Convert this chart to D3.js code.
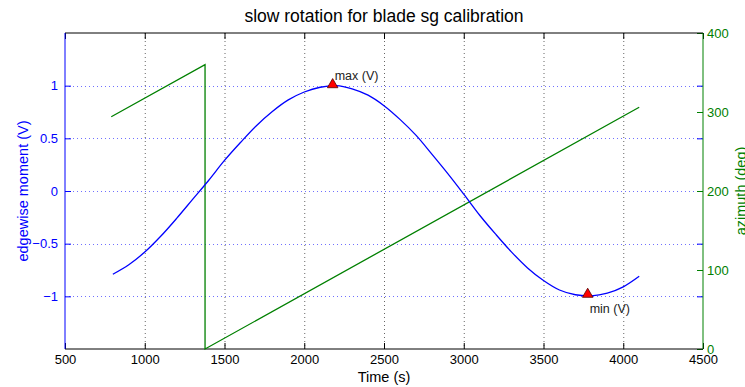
<!DOCTYPE html>
<html>
<head>
<meta charset="utf-8">
<style>
body { margin: 0; background: #fff; }
text { font-family: "Liberation Sans", Arial, Helvetica, sans-serif; }
</style>
</head>
<body>
<div id="chart"></div>
<script src="https://d3js.org/d3.v7.min.js"></script>
<script>
// edgewise moment (V), sampled every 100 s
var timeS = [800, 900, 1000, 1100, 1200, 1300, 1400, 1500, 1600, 1700, 1800, 1900,
             2000, 2100, 2200, 2300, 2400, 2500, 2600, 2700, 2800, 2900, 3000, 3100,
             3200, 3300, 3400, 3500, 3600, 3700, 3800, 3900, 4000, 4100];
var moment = [-0.79, -0.70, -0.58, -0.43, -0.26, -0.08, 0.10, 0.29, 0.46, 0.62, 0.755, 0.865,
              0.94, 0.985, 1.0, 0.97, 0.91, 0.81, 0.68, 0.53, 0.35, 0.165, -0.03, -0.23,
              -0.41, -0.58, -0.73, -0.85, -0.94, -0.985, -0.995, -0.97, -0.91, -0.81];

// azimuth (deg), wraps at 360
var aziTime = [790, 1378, 1378, 4100];
var azimuth = [294, 360, 0, 306];

// peaks
var peakLabel = ["max (V)", "min (V)"];
var peakTime = [2178, 3777];
var peakValue = [1.0, -0.99];

var xTicks = [500, 1000, 1500, 2000, 2500, 3000, 3500, 4000, 4500];
var leftTicks = [-1, -0.5, 0, 0.5, 1];
var rightTicks = [0, 100, 200, 300, 400];

var W = 745, H = 387;
var L = 65, R = 703, T = 33, B = 349;
var blue = "#0000ff", green = "#008000";
var tickLen = 6;

var svg = d3.select("#chart").append("svg").attr("width", W).attr("height", H);

var x = d3.scaleLinear().domain([500, 4500]).range([L, R]);
var yL = d3.scaleLinear().domain([-1.5, 1.5]).range([B, T]);
var yR = d3.scaleLinear().domain([0, 400]).range([B, T]);

//Grid lines (dotted)
svg.append("g").selectAll("line").data(xTicks.slice(1, -1)).join("line")
    .attr("x1", d => x(d) + 0.5).attr("x2", d => x(d) + 0.5)
    .attr("y1", T).attr("y2", B)
    .attr("stroke", "#666").attr("stroke-width", 1).attr("stroke-dasharray", "1,3");
svg.append("g").selectAll("line").data(leftTicks).join("line")
    .attr("x1", L).attr("x2", R)
    .attr("y1", d => Math.round(yL(d)) + 0.5).attr("y2", d => Math.round(yL(d)) + 0.5)
    .attr("stroke", "#7070ff").attr("stroke-width", 1).attr("stroke-dasharray", "1,3");

//Axes
var fmtL = d => d === 0 ? "0" : d3.format("")(d).replace("-", "\u2212");

var axB = svg.append("g").attr("transform", "translate(0," + B + ")")
    .call(d3.axisBottom(x).tickValues(xTicks).tickSizeInner(-tickLen).tickSizeOuter(0).tickPadding(6).tickFormat(d3.format("d")));
var axT = svg.append("g").attr("transform", "translate(0," + T + ")")
    .call(d3.axisTop(x).tickValues(xTicks).tickSizeInner(-tickLen).tickSizeOuter(0).tickFormat(""));
var axL = svg.append("g").attr("transform", "translate(" + L + ",0)")
    .call(d3.axisLeft(yL).tickValues(leftTicks).tickSizeInner(-tickLen).tickSizeOuter(0).tickPadding(7).tickFormat(fmtL));
var axLR = svg.append("g").attr("transform", "translate(" + R + ",0)")
    .call(d3.axisRight(yL).tickValues(leftTicks).tickSizeInner(-tickLen).tickSizeOuter(0).tickFormat(""));
var axR = svg.append("g").attr("transform", "translate(" + R + ",0)")
    .call(d3.axisRight(yR).tickValues(rightTicks).tickSizeInner(-tickLen).tickSizeOuter(0).tickPadding(4));

[axB, axT, axL, axLR, axR].forEach(function (g) {
    g.selectAll("text").style("font-size", "13px").style("font-family", "Liberation Sans, Arial, sans-serif");
    g.select(".domain").remove();
});
axB.selectAll("line").attr("stroke", "#000");
axB.selectAll("text").attr("fill", "#000");
axT.selectAll("line").attr("stroke", "#000");
axL.selectAll("line").attr("stroke", blue);
axL.selectAll("text").attr("fill", blue);
axLR.selectAll("line").attr("stroke", blue);
axR.selectAll("line").attr("stroke", green);
axR.selectAll("text").attr("fill", green);

//Frame: black top/bottom, blue left, green right
svg.append("line").attr("x1", L).attr("x2", R).attr("y1", T).attr("y2", T).attr("stroke", "#000");
svg.append("line").attr("x1", L).attr("x2", R).attr("y1", B).attr("y2", B).attr("stroke", "#000");
svg.append("line").attr("x1", L).attr("x2", L).attr("y1", T).attr("y2", B).attr("stroke", blue);
svg.append("line").attr("x1", R).attr("x2", R).attr("y1", T).attr("y2", B).attr("stroke", green);

//Azimuth sawtooth
var aziLine = d3.line().x((d, i) => x(aziTime[i])).y(d => yR(d));
svg.append("path").datum(azimuth).attr("d", aziLine)
    .attr("fill", "none").attr("stroke", green).attr("stroke-width", 1.3);

//Edgewise moment
var momLine = d3.line().x((d, i) => x(timeS[i])).y(d => yL(d)).curve(d3.curveCatmullRom);
svg.append("path").datum(moment).attr("d", momLine)
    .attr("fill", "none").attr("stroke", blue).attr("stroke-width", 1.3);

//Peak markers + labels
var tri = d3.symbol().type(d3.symbolTriangle).size(48);
peakLabel.forEach(function (lab, i) {
    var px = x(peakTime[i]), py = yL(peakValue[i]);
    svg.append("path").attr("d", tri)
        .attr("transform", "translate(" + px + "," + (py - 1) + ")")
        .attr("fill", "#ff0000").attr("stroke", "#500").attr("stroke-width", 0.8);
    svg.append("text")
        .attr("x", px + 2)
        .attr("y", i === 0 ? py - 6 : py + 18)
        .style("font-size", "12.5px")
        .attr("fill", "#222")
        .text(lab);
});

//Titles
svg.append("text").attr("x", (L + R) / 2).attr("y", 22)
    .attr("text-anchor", "middle").style("font-size", "17.5px").attr("fill", "#000")
    .text("slow rotation for blade sg calibration");
svg.append("text").attr("x", (L + R) / 2).attr("y", 382)
    .attr("text-anchor", "middle").style("font-size", "14.5px").attr("fill", "#000")
    .text("Time (s)");
svg.append("text").attr("transform", "translate(28," + ((T + B) / 2) + ") rotate(-90)")
    .attr("text-anchor", "middle").style("font-size", "14.5px").attr("fill", blue)
    .text("edgewise moment (V)");
svg.append("text").attr("transform", "translate(746," + ((T + B) / 2) + ") rotate(-90)")
    .attr("text-anchor", "middle").style("font-size", "14.5px").attr("fill", green)
    .text("azimuth (deg)");
</script>
</body>
</html>
